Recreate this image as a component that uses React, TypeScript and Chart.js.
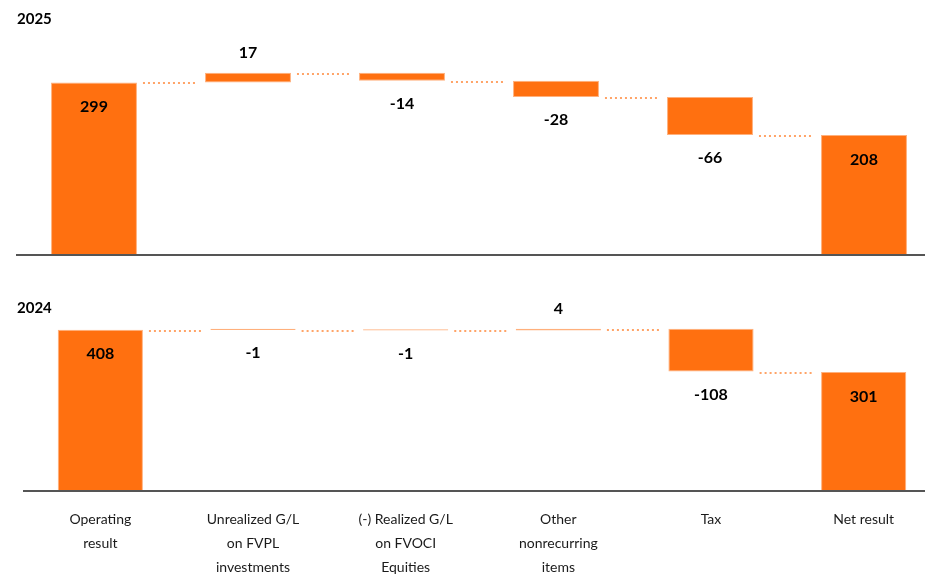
import React, { useEffect, useRef } from 'react';
import { Chart, registerables } from 'chart.js';

Chart.register(...registerables);

const categories: string[][] = [
  ['Operating', 'result'],
  ['Unrealized G/L', 'on FVPL', 'investments'],
  ['(-) Realized G/L', 'on FVOCI', 'Equities'],
  ['Other', 'nonrecurring', 'items'],
  ['Tax'],
  ['Net result'],
];
const isTotal: boolean[] = [true, false, false, false, false, true];
const values2025: number[] = [299, 17, -14, -28, -66, 208];
const values2024: number[] = [408, -1, -1, 4, -108, 301];
const yMax2025 = 390;
const yMax2024 = 445;

const BAR = '#FF7010';
const BAR_EDGE = '#FFB07C';
const THIN_BAR = '#FFB27E';
const DOTS = '#FFA468';

function floating(values: number[]): [number, number][] {
  let run = 0;
  return values.map((v, i) => {
    if (isTotal[i]) {
      run = v;
      return [0, v];
    }
    const s = run;
    run += v;
    return [s, run];
  });
}

const waterfallPlugin = {
  id: 'wf',
  afterDatasetsDraw(chart: any, _args: any, opts: any) {
    const ctx = chart.ctx;
    const meta = chart.getDatasetMeta(0);
    const yScale = chart.scales.y;
    const ranges: [number, number][] = opts.ranges;
    const values: number[] = opts.values;
    ctx.save();
    // connectors
    ctx.strokeStyle = DOTS;
    ctx.lineWidth = 2;
    ctx.setLineDash([2, 3]);
    for (let i = 0; i < meta.data.length - 1; i++) {
      const a = meta.data[i].getProps(['x', 'width'], true);
      const b = meta.data[i + 1].getProps(['x', 'width'], true);
      const y = Math.round(yScale.getPixelForValue(ranges[i][1])) + 1;
      ctx.beginPath();
      ctx.moveTo(a.x + a.width / 2 + 6, y);
      ctx.lineTo(b.x - b.width / 2 - 9, y);
      ctx.stroke();
    }
    ctx.setLineDash([]);
    // value labels
    ctx.font = 'bold 16px Lato';
    ctx.fillStyle = '#000';
    ctx.textAlign = 'center';
    ctx.textBaseline = 'middle';
    meta.data.forEach((bar: any, i: number) => {
      const p = bar.getProps(['x', 'y', 'base'], true);
      const top = Math.min(p.y, p.base);
      const bottom = Math.max(p.y, p.base);
      const v = values[i];
      let y: number;
      if (isTotal[i]) y = top + 24.5;
      else if (v >= 0) y = top - 20;
      else y = bottom + 23;
      ctx.fillText(String(v), p.x, y);
    });
    // panel title
    ctx.font = 'bold 15px Lato';
    ctx.textAlign = 'left';
    ctx.fillText(opts.title, 17, opts.titleY);
    ctx.restore();
  },
};

function makeConfig(
  values: number[],
  yMax: number,
  title: string,
  titleY: number,
  showLabels: boolean,
  padding: { left: number; right: number; top: number; bottom: number }
): any {
  const ranges = floating(values);
  const thin = (i: number) => Math.abs(values[i]) / yMax < 0.01;
  return {
    type: 'bar',
    data: {
      labels: categories,
      datasets: [
        {
          data: ranges,
          backgroundColor: (c: any) => (thin(c.dataIndex) ? THIN_BAR : BAR),
          borderColor: BAR_EDGE,
          borderWidth: 1,
          borderSkipped: false,
          minBarLength: 1.2,
          barPercentage: 0.558,
          categoryPercentage: 1,
        },
      ],
    },
    options: {
      animation: false,
      responsive: false,
      layout: { padding },
      plugins: {
        legend: { display: false },
        tooltip: { enabled: false },
        title: { display: false },
        wf: { ranges, values, title, titleY },
      },
      scales: {
        x: {
          grid: { display: false, drawTicks: false },
          border: { display: true, color: '#555555', width: 2, z: 1 },
          ticks: {
            display: showLabels,
            autoSkip: false,
            maxRotation: 0,
            padding: 16,
            color: '#1a1a1a',
            font: { family: 'Lato', size: 14, lineHeight: 24 / 14 },
          },
        },
        y: { display: false, min: 0, max: yMax },
      },
    },
    plugins: [waterfallPlugin],
  };
}

export default function App() {
  const topRef = useRef<HTMLCanvasElement>(null);
  const botRef = useRef<HTMLCanvasElement>(null);

  useEffect(() => {
    const c1 = new Chart(
      topRef.current as HTMLCanvasElement,
      makeConfig(values2025, yMax2025, '2025', 19, false, { left: 17, right: 19, top: 30, bottom: 10 })
    );
    const c2 = new Chart(
      botRef.current as HTMLCanvasElement,
      makeConfig(values2024, yMax2024, '2024', 43, true, { left: 24, right: 20, top: 50, bottom: 10 })
    );
    return () => {
      c1.destroy();
      c2.destroy();
    };
  }, []);

  return (
    <div
      style={{
        position: 'fixed',
        left: 0,
        top: 0,
        width: 925,
        height: 575,
        overflow: 'hidden',
        background: '#ffffff',
      }}
    >
      <canvas ref={topRef} width={960} height={265} style={{ position: 'absolute', left: 0, top: 0 }} />
      <canvas ref={botRef} width={960} height={340} style={{ position: 'absolute', left: 0, top: 265 }} />
    </div>
  );
}
